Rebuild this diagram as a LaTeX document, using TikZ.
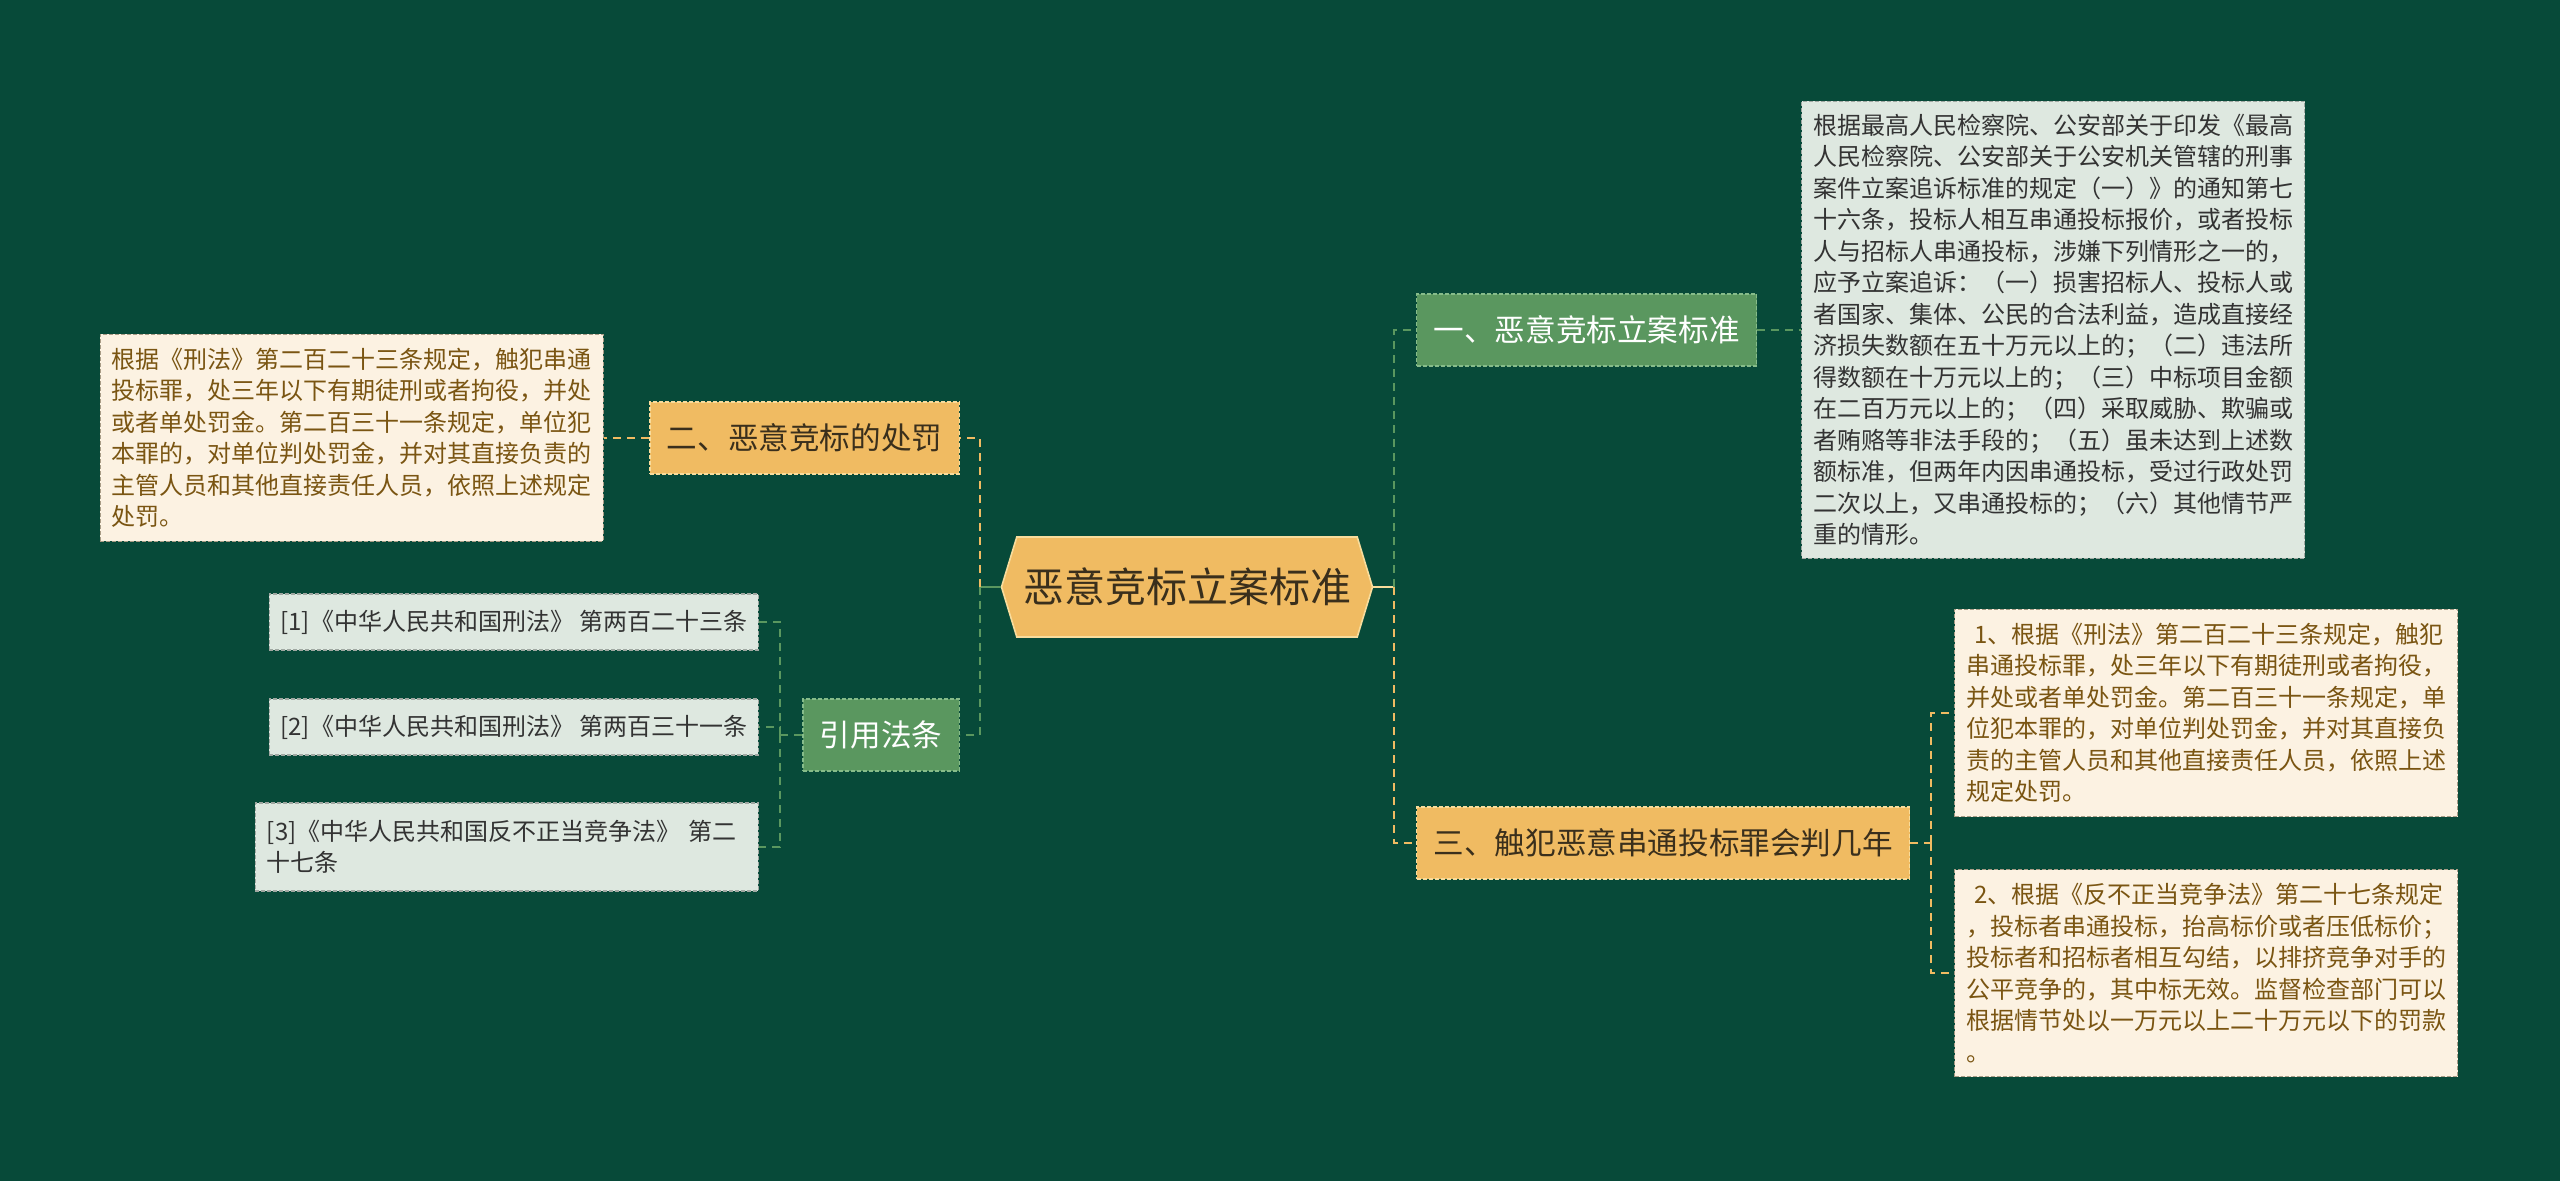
\documentclass[tikz,border=0pt]{standalone}
\usepackage{fontspec}
\setmainfont{Noto Sans CJK SC}
\usetikzlibrary{shapes.symbols}
\definecolor{bg}{HTML}{074A39}
\definecolor{orng}{HTML}{F0BB62}
\definecolor{orngline}{HTML}{F8DC9C}
\definecolor{grn}{HTML}{5A975F}
\definecolor{grnline}{HTML}{86BC8A}
\definecolor{cream}{HTML}{FCF2E2}
\definecolor{creamline}{HTML}{A89C86}
\definecolor{brown}{HTML}{7A5512}
\definecolor{pale}{HTML}{DEE8E0}
\definecolor{paleline}{HTML}{A0A8A2}
\definecolor{ink}{HTML}{333333}
\definecolor{darkink}{HTML}{3A2F1C}
\begin{document}
\begin{tikzpicture}[x=0.5pt,y=-0.5pt,
  topic/.style={dash pattern=on 2pt off 1pt,line width=0.7pt,inner xsep=8.5pt,minimum height=36pt,font=\fontsize{15.3pt}{18pt}\selectfont},
  otopic/.style={topic,draw=orngline,fill=orng,text=darkink},
  gtopic/.style={topic,draw=grnline,fill=grn,text=white},
  memo/.style={dash pattern=on 2pt off 1pt,line width=0.6pt,inner xsep=5.75pt,inner ysep=4pt,text width=240pt,align=left,font=\fontsize{12pt}{15.75pt}\selectfont},
  cmemo/.style={memo,draw=creamline,fill=cream,text=brown},
  pmemo/.style={memo,draw=paleline,fill=pale,text=ink},
  refbox/.style={dash pattern=on 2pt off 1pt,line width=0.6pt,draw=paleline,fill=pale,text=ink,inner xsep=5.5pt,minimum height=28pt,font=\fontsize{12pt}{15.75pt}\selectfont},
  glink/.style={grn,line width=1.2pt,dash pattern=on 4pt off 3pt},
  olink/.style={orng,line width=1.2pt,dash pattern=on 4pt off 3pt},
  gleaf/.style={grn,line width=0.8pt,dash pattern=on 4pt off 3pt},
  oleaf/.style={orng,line width=0.8pt,dash pattern=on 4pt off 3pt},
]
\useasboundingbox (0,0) rectangle (2560,1181);
\fill[bg] (0,0) rectangle (2560,1181);

% 中心主题
\node[signal,signal to=east and west,signal pointer angle=146,fill=orng,draw=orngline,line width=0.8pt,
  minimum width=185.5pt,minimum height=50pt,inner sep=0pt,text=darkink,
  font=\fontsize{20.5pt}{24pt}\selectfont] (root) at (1187,587) {恶意竞标立案标准};

% 分支
\node[gtopic,anchor=west] (std) at (1416,330) {一、恶意竞标立案标准};
\node[otopic,anchor=west] (verdict) at (1416,843) {三、触犯恶意串通投标罪会判几年};
\node[otopic,anchor=east] (pen) at (960,438) {二、恶意竞标的处罚};
\node[gtopic,anchor=east] (cite) at (960,735) {引用法条};

% 说明文字
\node[pmemo,anchor=west,minimum height=228.5pt] (stdtext) at (1801,330) {根据最高人民检察院、公安部关于印发《最高\\
人民检察院、公安部关于公安机关管辖的刑事\\
案件立案追诉标准的规定（一）》的通知第七\\
十六条，投标人相互串通投标报价，或者投标\\
人与招标人串通投标，涉嫌下列情形之一的，\\
应予立案追诉：（一）损害招标人、投标人或\\
者国家、集体、公民的合法利益，造成直接经\\
济损失数额在五十万元以上的；（二）违法所\\
得数额在十万元以上的；（三）中标项目金额\\
在二百万元以上的；（四）采取威胁、欺骗或\\
者贿赂等非法手段的；（五）虽未达到上述数\\
额标准，但两年内因串通投标，受过行政处罚\\
二次以上，又串通投标的；（六）其他情节严\\
重的情形。};
\node[cmemo,anchor=west,minimum height=103.5pt] (law1) at (1954,713) {\ 1、根据《刑法》第二百二十三条规定，触犯\\
串通投标罪，处三年以下有期徒刑或者拘役，\\
并处或者单处罚金。第二百三十一条规定，单\\
位犯本罪的，对单位判处罚金，并对其直接负\\
责的主管人员和其他直接责任人员，依照上述\\
规定处罚。};
\node[cmemo,anchor=west,minimum height=103.5pt] (law2) at (1954,973) {\ 2、根据《反不正当竞争法》第二十七条规定\\
，投标者串通投标，抬高标价或者压低标价；\\
投标者和招标者相互勾结，以排挤竞争对手的\\
公平竞争的，其中标无效。监督检查部门可以\\
根据情节处以一万元以上二十万元以下的罚款\\
。};
\node[cmemo,anchor=east,minimum height=103.5pt] (pentext) at (604,438) {根据《刑法》第二百二十三条规定，触犯串通\\
投标罪，处三年以下有期徒刑或者拘役，并处\\
或者单处罚金。第二百三十一条规定，单位犯\\
本罪的，对单位判处罚金，并对其直接负责的\\
主管人员和其他直接责任人员，依照上述规定\\
处罚。};
\node[refbox,anchor=east] (ref1) at (759,622) {[1]《中华人民共和国刑法》 第两百二十三条};
\node[refbox,anchor=east] (ref2) at (759,727) {[2]《中华人民共和国刑法》 第两百三十一条};
\node[pmemo,anchor=east,minimum height=44pt] (ref3) at (759,847) {[3]《中华人民共和国反不正当竞争法》 第二\\十七条};

% 连线
\coordinate (rootR) at (1394,587);
\coordinate (rootL) at (980,587);
\coordinate (verdictR) at (1931,843);
\coordinate (citeL) at (780,735);

\draw[line width=1.2pt,orngline] (root.east) -- (rootR);
\draw[glink] (rootR) |- (std.west);
\draw[olink] (rootR) |- (verdict.west);
\draw[line width=1.2pt,grn] (root.west) -- (rootL);
\draw[olink] (rootL) |- (pen.east);
\draw[glink] (rootL) |- (cite.east);

\draw[gleaf] (std.east) -- (stdtext.west);
\draw[oleaf] (pen.west) -- (pentext.east);
\draw[oleaf] (verdict.east) -- (verdictR);
\draw[oleaf] (verdictR) |- (law1.west);
\draw[oleaf] (verdictR) |- (law2.west);
\draw[gleaf] (cite.west) -- (citeL);
\draw[gleaf] (citeL) |- (ref1.east);
\draw[gleaf] (citeL) |- (ref2.east);
\draw[gleaf] (citeL) |- (ref3.east);
\end{tikzpicture}
\end{document}
